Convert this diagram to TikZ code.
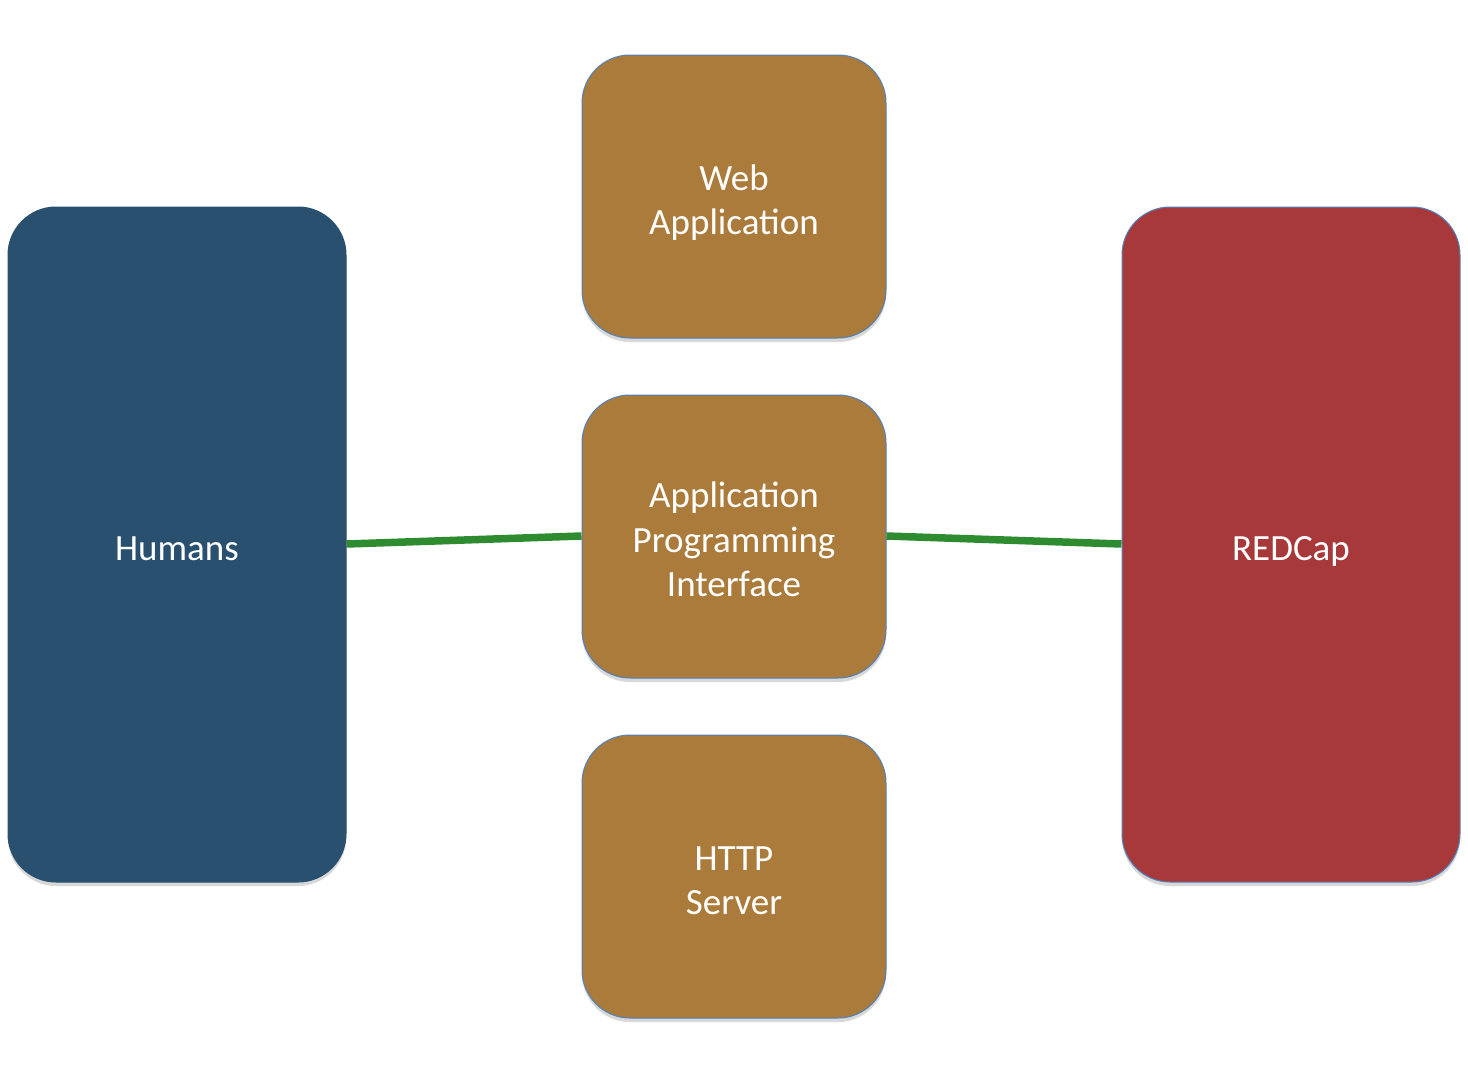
\documentclass[tikz,border=0pt]{standalone}
\usepackage{fontspec}
\setmainfont{Carlito}
\usetikzlibrary{shadows}
\definecolor{hblue}{HTML}{2A5070}
\definecolor{brownbox}{HTML}{AB7B3B}
\definecolor{redbox}{HTML}{A8393A}
\definecolor{edgeblue}{HTML}{4F81BD}
\definecolor{linkgreen}{HTML}{2E8B30}
\tikzset{
  box/.style={rounded corners=48pt, draw=edgeblue, line width=1pt,
    drop shadow={shadow xshift=0pt, shadow yshift=-4pt, opacity=0.25, fill=black!60}},
  boxtext/.style={text=white, font=\fontsize{37}{44.5}\selectfont, align=center},
  link/.style={draw=linkgreen, line width=7.5pt}
}
\begin{document}
\begin{tikzpicture}[x=1pt,y=-1pt]
\useasboundingbox[fill=white] (0,0) rectangle (1468,1088);
\node[box, fill=hblue, draw=hblue, minimum width=338pt, minimum height=675pt,
  label={[boxtext, yshift=-4pt]center:Humans}] (humans) at (177,544.5) {};
\node[box, fill=brownbox, minimum width=304pt, minimum height=283pt,
  label={[boxtext, yshift=-6pt]center:Web\\Application}] (web) at (734,196.5) {};
\node[box, fill=brownbox, minimum width=304pt, minimum height=283pt,
  label={[boxtext, yshift=-3pt]center:Application\\Programming\\Interface}] (api) at (734,536.5) {};
\node[box, fill=brownbox, minimum width=304pt, minimum height=283pt,
  label={[boxtext, yshift=-4pt]center:HTTP\\Server}] (http) at (734,876.5) {};
\node[box, fill=redbox, minimum width=338pt, minimum height=675pt,
  label={[boxtext, yshift=-7pt]center:REDCap}] (redcap) at (1291,544.5) {};
\coordinate (hr) at (346,544);
\coordinate (al) at (582,536);
\coordinate (ar) at (886,536);
\coordinate (rl) at (1122,544);
\draw[link] (humans.east |- hr) -- (api.west |- al);
\draw[link] (api.east |- ar) -- (redcap.west |- rl);
\end{tikzpicture}
\end{document}
